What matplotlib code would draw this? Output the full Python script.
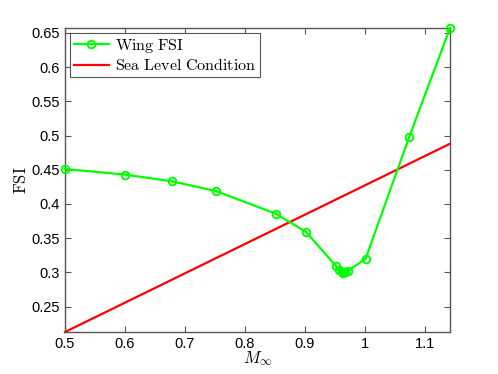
import matplotlib
matplotlib.use("Agg")
import matplotlib.pyplot as plt

mach = [0.5, 0.6, 0.679, 0.751, 0.851, 0.902, 0.952, 0.957, 0.961, 0.964, 0.967, 0.971, 1.001, 1.074, 1.1417]
fsi = [0.451, 0.443, 0.433, 0.419, 0.386, 0.359, 0.309, 0.303, 0.300, 0.299, 0.300, 0.302, 0.320, 0.4985, 0.657]
sea_mach = [0.5, 1.1417]
sea_fsi = [0.213, 0.488]
xticks = [0.5, 0.6, 0.7, 0.8, 0.9, 1.0, 1.1]
xticklabels = ["0.5", "0.6", "0.7", "0.8", "0.9", "1", "1.1"]
yticks = [0.25, 0.3, 0.35, 0.4, 0.45, 0.5, 0.55, 0.6, 0.65]
yticklabels = ["0.25", "0.3", "0.35", "0.4", "0.45", "0.5", "0.55", "0.6", "0.65"]

plt.rcParams['mathtext.fontset'] = 'cm'
plt.rcParams['font.family'] = ['Liberation Sans', 'DejaVu Sans']

fig = plt.figure(figsize=(4.98, 3.74), dpi=100)
ax = fig.add_axes([0.1305, 0.1123, 0.7731, 0.8127])

ax.plot(mach, fsi, color='#00ff00', lw=1.6, marker='o', mfc='none', mec='#00ff00',
        ms=5.5, mew=1.4, label=r'$\mathrm{Wing\ FSI}$', clip_on=False, zorder=3)
ax.plot(sea_mach, sea_fsi, color='#ff0000', lw=1.6, label=r'$\mathrm{Sea\ Level\ Condition}$', clip_on=False)

ax.set_xlim(0.5, 1.1417)
ax.set_ylim(0.213, 0.657)
ax.set_xticks(xticks)
ax.set_xticklabels(xticklabels)
ax.set_yticks(yticks)
ax.set_yticklabels(yticklabels)
ax.tick_params(direction='in', top=True, right=True, labelsize=10.5, length=4,
               color='#555555', width=0.8)
for s in ax.spines.values():
    s.set_color('#555555')
    s.set_linewidth(1.0)

ax.set_xlabel(r'$M_\infty$', fontsize=12, labelpad=-1)
ax.set_ylabel(r'$\mathrm{FSI}$', fontsize=12, labelpad=2)

leg = ax.legend(loc='upper left', fontsize=11.5, fancybox=False, framealpha=1,
                edgecolor='#555555', borderaxespad=0.3, handlelength=2.2,
                borderpad=0.25, labelspacing=0.15, handletextpad=0.4)
leg.get_frame().set_linewidth(0.8)

fig.savefig('out.png', dpi=100)
